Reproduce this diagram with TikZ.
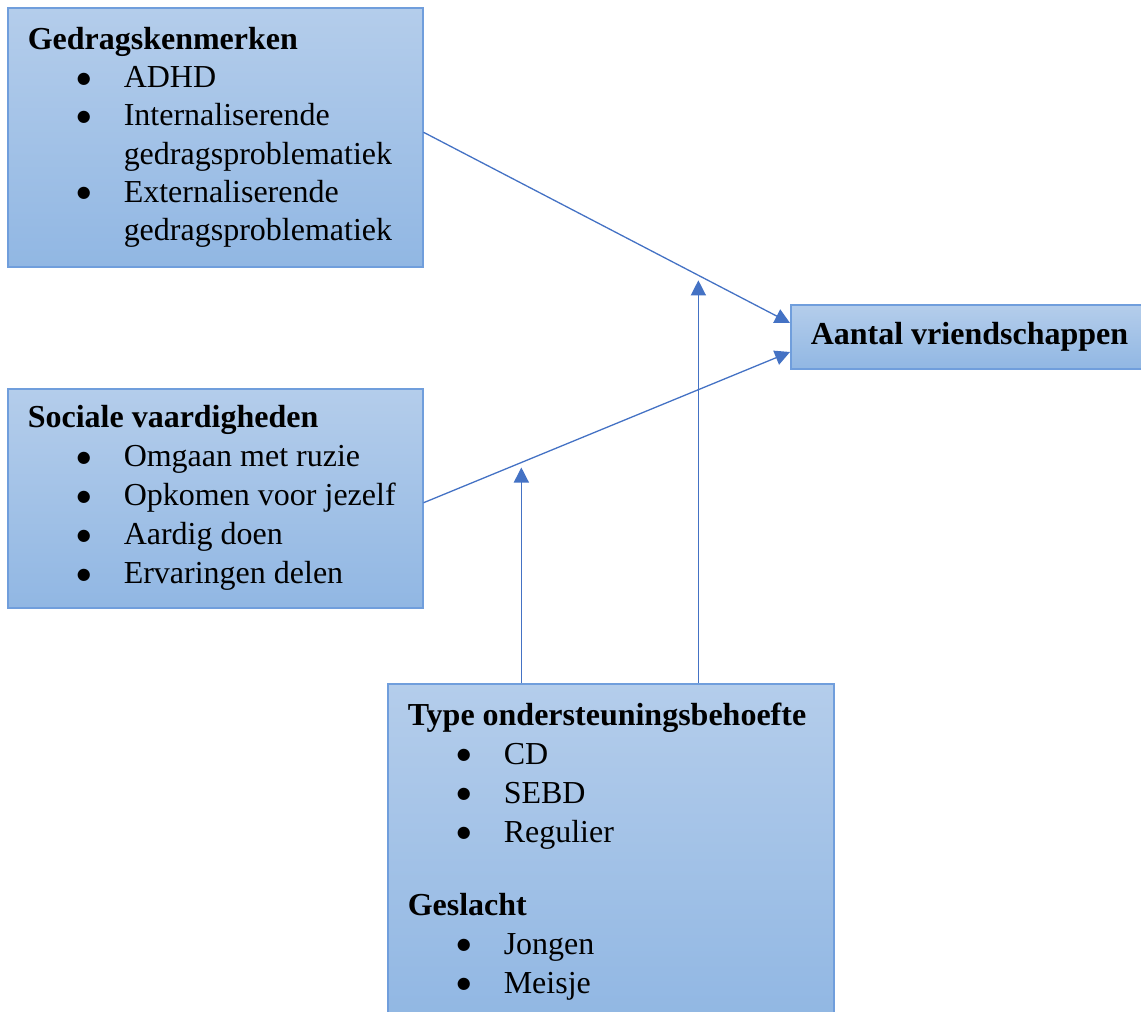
\documentclass[tikz,border=0pt]{standalone}
\usepackage{fontspec}
\setmainfont{Liberation Serif}
\newfontfamily\dotfont{DejaVu Sans}
\usetikzlibrary{arrows.meta,calc,positioning}
\definecolor{BoxTop}{RGB}{180,205,235}
\definecolor{BoxBot}{RGB}{145,183,227}
\definecolor{BoxLine}{RGB}{112,158,220}
\definecolor{ArrowClr}{RGB}{68,114,196}
\newcommand{\dotmark}{{\dotfont\fontsize{16}{16}\selectfont ●}}
\newcommand{\bul}[1]{\hspace*{49pt}\makebox[47pt][l]{\raisebox{4.5pt}{\dotmark}}#1}
\newcommand{\cont}[1]{\hspace*{96pt}#1}

\begin{document}
\begin{tikzpicture}[x=1pt,y=-1pt,
  box/.style={draw=BoxLine,line width=1.5pt,top color=BoxTop,bottom color=BoxBot,
    anchor=north west,inner xsep=20pt,inner ysep=0pt,
    font=\fontsize{32}{39}\selectfont},
  arr/.style={draw=ArrowClr,line width=1.3pt,-{Triangle[length=15pt,width=15pt]}}]

\clip (0,0) rectangle (1141,1012);

\node[box,minimum width=415pt,minimum height=259pt,text width=375pt,align=flush left,
  font=\fontsize{32}{38.2}\selectfont] (gedrag) at (7,7)
  {\textbf{Gedragskenmerken}\\ \bul{ADHD}\\ \bul{Internaliserende}\\ \cont{gedragsproblematiek}\\
   \bul{Externaliserende}\\ \cont{gedragsproblematiek}};
\node[box,minimum width=415pt,minimum height=219pt,text width=375pt,align=flush left] (sociaal) at (7,388)
  {\textbf{Sociale vaardigheden}\\ \bul{Omgaan met ruzie}\\ \bul{Opkomen voor jezelf}\\
   \bul{Aardig doen}\\ \bul{Ervaringen delen}};
\node[box,minimum width=356pt,minimum height=64pt,anchor=west] (aantal) at (790,337)
  {\textbf{Aantal vriendschappen}};
\node[box,minimum width=446pt,minimum height=335pt,text width=406pt,align=flush left] (type) at (387,683)
  {\textbf{Type ondersteuningsbehoefte}\\ \bul{CD}\\ \bul{SEBD}\\ \bul{Regulier}\\[34pt]
   \textbf{Geslacht}\\ \bul{Jongen}\\ \bul{Meisje}};

\draw[arr] ([yshift=5pt]gedrag.east) -- coordinate[pos=.75] (m1) ([yshift=14pt]aantal.west);
\draw[arr] ([yshift=-4.5pt]sociaal.east) -- coordinate[pos=.267] (m2) ([yshift=-15pt]aantal.west);
\draw[arr,shorten >=5pt] (m1 |- type.north) -- (m1);
\draw[arr,shorten >=5pt] (m2 |- type.north) -- (m2);

\end{tikzpicture}
\end{document}
